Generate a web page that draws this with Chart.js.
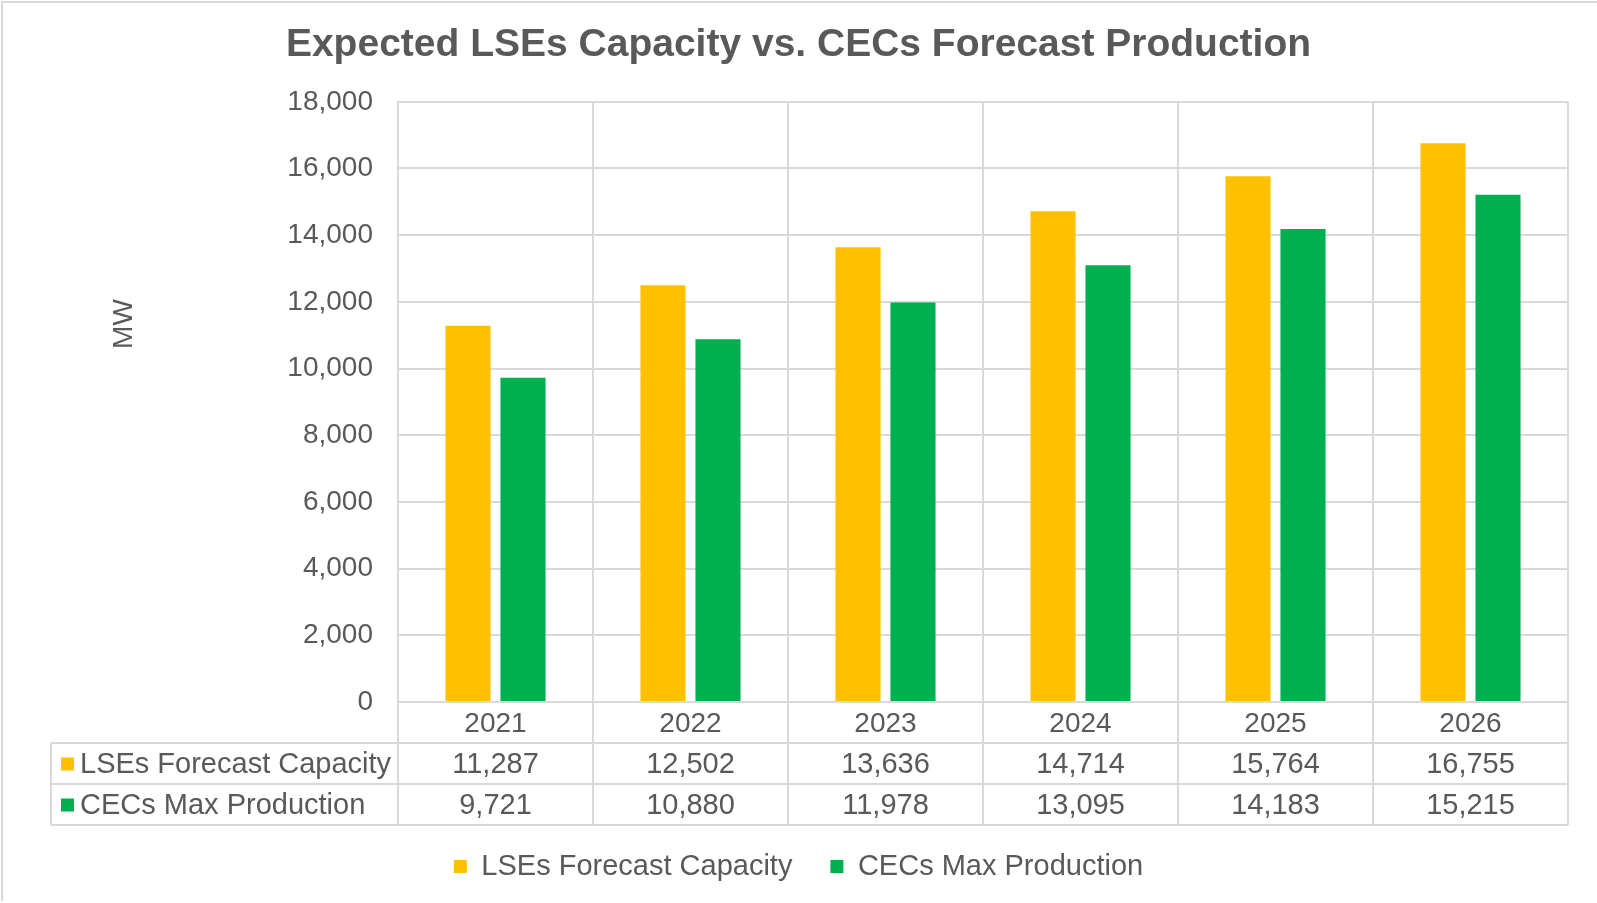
<!DOCTYPE html>
<html>
<head>
<meta charset="utf-8">
<script src="https://cdn.jsdelivr.net/npm/chart.js@4"></script>
<style>
    body { margin: 0; background: #ffffff; }
    #wrap { width: 1597px; height: 903px; }
</style>
</head>
<body>
<div id="wrap"><canvas id="capacity_chart" width="1597" height="903"></canvas></div>
<script>
// chart data
const years = ["2021", "2022", "2023", "2024", "2025", "2026"];
const lse_capacity = [11287, 12502, 13636, 14714, 15764, 16755];
const cec_production = [9721, 10880, 11978, 13095, 14183, 15215];
const series_names = ["LSEs Forecast Capacity", "CECs Max Production"];
const y_tick_values = [0, 2000, 4000, 6000, 8000, 10000, 12000, 14000, 16000, 18000];

// style constants
const font_name = "'Liberation Sans', Arial, sans-serif";
const text_color = "#595959";
const line_color = "#d9d9d9";
const yellow = "#FFC000";
const green = "#00B050";

// draws the outer frame, the MW label and the data table under the x axis
const table_plugin = {
    id: "table_plugin",
    beforeDraw(chart) {
        // only the top and left edges of the frame show in the picture
        const ctx = chart.ctx;
        ctx.save();
        ctx.strokeStyle = line_color;
        ctx.lineWidth = 2;
        ctx.beginPath();
        ctx.moveTo(2, chart.height - 2);
        ctx.lineTo(2, 2);
        ctx.lineTo(chart.width, 2);
        ctx.stroke();
        ctx.restore();
    },
    afterDraw(chart) {
        const ctx = chart.ctx;
        const area = chart.chartArea;
        const x_scale = chart.scales.x;
        const col_width = (area.right - area.left) / years.length;
        const row_height = 41;
        const table_left = 51;
        const row_lines = [area.bottom + row_height, area.bottom + row_height * 2, area.bottom + row_height * 3];
        ctx.save();

        // y axis title
        ctx.fillStyle = text_color;
        ctx.font = "28px " + font_name;
        ctx.translate(124, 324);
        ctx.rotate(-Math.PI / 2);
        ctx.textAlign = "center";
        ctx.textBaseline = "middle";
        ctx.fillText("MW", 0, 0);
        ctx.setTransform(1, 0, 0, 1, 0, 0);

        // table lines
        ctx.strokeStyle = line_color;
        ctx.lineWidth = 2;
        ctx.beginPath();
        for (const y of row_lines) {
            ctx.moveTo(table_left, y);
            ctx.lineTo(area.right, y);
        }
        ctx.moveTo(table_left, row_lines[0]);
        ctx.lineTo(table_left, row_lines[2]);
        for (let i = 0; i <= years.length; i++) {
            const x = area.left + i * col_width;
            ctx.moveTo(x, area.bottom);
            ctx.lineTo(x, row_lines[2]);
        }
        ctx.stroke();

        // table rows
        const rows = [lse_capacity, cec_production];
        const colors = [yellow, green];
        ctx.font = "29px " + font_name;
        ctx.textBaseline = "middle";
        rows.forEach((values, r) => {
            const y_mid = row_lines[r] + row_height / 2 + 1;
            ctx.fillStyle = colors[r];
            ctx.fillRect(61, y_mid - 7, 13, 13);
            ctx.fillStyle = text_color;
            ctx.textAlign = "left";
            ctx.fillText(series_names[r], 80, y_mid);
            ctx.textAlign = "center";
            values.forEach((v, i) => {
                ctx.fillText(v.toLocaleString("en-US"), x_scale.getPixelForValue(i), y_mid);
            });
        });
        ctx.restore();
    }
};

// chart constants
const capacity_chart = new Chart("capacity_chart", {
    type: "bar",
    data: {
        labels: years,
        datasets: [{
            label: series_names[0],
            backgroundColor: yellow,
            data: lse_capacity,
            categoryPercentage: 0.564,
            barPercentage: 0.82
        }, {
            label: series_names[1],
            backgroundColor: green,
            data: cec_production,
            categoryPercentage: 0.564,
            barPercentage: 0.82
        }]
    },
    options: {
        animation: false,
        responsive: false,
        devicePixelRatio: 1,
        layout: { padding: { left: 29, right: 29, top: 0, bottom: 12 } },
        plugins: {
            title: {
                display: true,
                text: "Expected LSEs Capacity vs. CECs Forecast Production",
                color: text_color,
                font: { family: font_name, size: 39, weight: "bold" },
                padding: { top: 22, bottom: 33 }
            },
            legend: {
                display: true,
                position: "bottom",
                labels: {
                    color: text_color,
                    font: { family: font_name, size: 29 },
                    boxWidth: 13,
                    boxHeight: 13,
                    padding: 38
                }
            },
            tooltip: { enabled: false }
        },
        scales: {
            x: {
                grid: { color: line_color, lineWidth: 2, drawTicks: false, offset: true },
                border: { color: line_color, width: 2 },
                ticks: {
                    color: text_color,
                    font: { family: font_name, size: 28 },
                    padding: 5,
                    maxRotation: 0
                },
                afterFit: (scale) => { scale.height = 112; }
            },
            y: {
                min: 0,
                max: 18000,
                grid: { color: line_color, lineWidth: 2, drawTicks: false },
                border: { color: line_color, width: 2 },
                afterBuildTicks: (scale) => { scale.ticks = y_tick_values.map(v => ({ value: v })); },
                ticks: {
                    color: text_color,
                    font: { family: font_name, size: 28 },
                    padding: 25,
                    callback: (value) => value.toLocaleString("en-US")
                },
                afterFit: (scale) => { scale.width = 369; }
            }
        }
    },
    plugins: [table_plugin]
});
</script>
</body>
</html>
